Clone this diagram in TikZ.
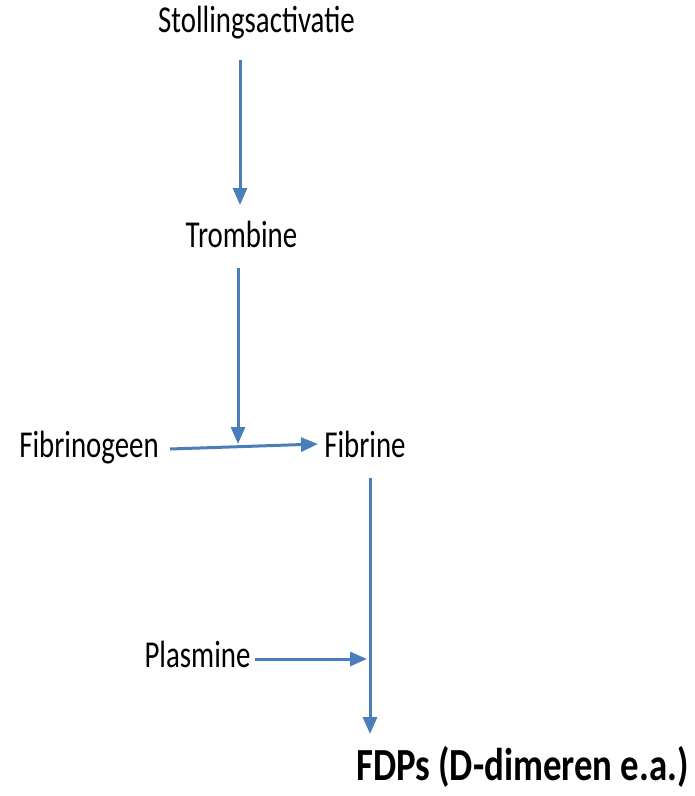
\documentclass[tikz,border=0pt]{standalone}
\usepackage{fontspec}
\setmainfont{Carlito}[FakeStretch=0.76]
\newfontfamily\fdpfont{Carlito}[FakeStretch=0.8]
\usetikzlibrary{arrows.meta}
\definecolor{arrowblue}{HTML}{4A7EBB}
\tikzset{
  lbl/.style={anchor=base, inner sep=0pt, font=\fontsize{38}{42}\selectfont},
  lblbold/.style={anchor=base, inner sep=0pt, font=\fontdpfontsel},
  conn/.style={draw=arrowblue, line width=3pt, -{Triangle[length=17pt,width=14pt]}}
}
\newcommand{\fontdpfontsel}{\fdpfont\fontsize{46}{52}\selectfont\bfseries}
\begin{document}
\begin{tikzpicture}[x=1pt,y=-1pt]
\useasboundingbox (0,0) rectangle (695,796);
\node[lbl] (stol) at (256.5,32) {Stollingsactivatie};
\node[lbl] (trom) at (241.5,247) {Trombine};
\node[lbl] (fibg) at (89,457) {Fibrinogeen};
\node[lbl] (fibr) at (365,457) {Fibrine};
\node[lbl] (plas) at (197.5,667) {Plasmine};
\node[lblbold] (fdp) at (522.5,780) {FDPs (D-dimeren e.a.)};
\coordinate (s1) at (240,60);
\coordinate (e1) at (240,205);
\coordinate (s2) at (238,268);
\coordinate (junc) at (238,444);
\coordinate (s3) at (170,449);
\coordinate (e3) at (318,444);
\coordinate (s4) at (370,478);
\coordinate (e4) at (370,734);
\coordinate (s5) at (255,659);
\coordinate (e5) at (367,659);
\draw[conn] (s1) -- (e1);
\draw[conn] (s2) -- (junc);
\draw[conn] (s3) -- (e3);
\draw[conn] (s4) -- (e4);
\draw[conn] (s5) -- (e5);
\end{tikzpicture}
\end{document}
